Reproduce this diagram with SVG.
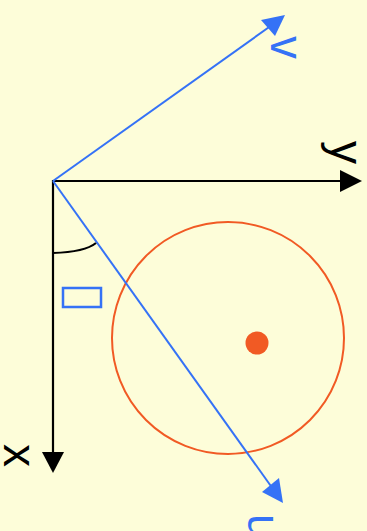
<svg xmlns="http://www.w3.org/2000/svg" width="367" height="531" viewBox="0 0 367 531">
<style>
.ax{stroke:#000;stroke-width:2.2;fill:none}
.bl{stroke:#3572f6;stroke-width:2;fill:none}
.lbl{font-family:"Liberation Sans",Arial,sans-serif;font-size:46px}
.blt{fill:#3572f6}
</style>
<rect width="367" height="531" fill="#fdfdd9"/>
<g id="circle">
<circle cx="228" cy="338" r="116" fill="none" stroke="#f15a24" stroke-width="2"/>
<circle cx="257" cy="343" r="11.5" fill="#f15a24"/>
</g>
<g id="connectors">
<line class="ax" x1="53" y1="180" x2="53" y2="455"/>
<polygon points="53,473 42,452 64,452" fill="#000"/>
<line class="ax" x1="52" y1="181" x2="342" y2="181"/>
<polygon points="362,181 340,170 340,192" fill="#000"/>
<line class="bl" x1="53" y1="181" x2="272" y2="25"/>
<polygon points="285,15 261,20 275,36" fill="#3572f6"/>
<line class="bl" x1="53" y1="181" x2="273" y2="489"/>
<polygon points="283,503 262,492 279,478" fill="#3572f6"/>
<path d="M53,253 Q85,252 96,243" fill="none" stroke="#000" stroke-width="2.2"/>
</g>
<g id="angle">
<rect x="63" y="288" width="38" height="19" fill="none" stroke="#3572f6" stroke-width="2.5"/>
</g>
<g id="labels">
<text class="lbl blt" x="271" y="36" transform="rotate(90 271 36)">v</text>
<text class="lbl" x="331" y="141" transform="rotate(90 331 141)">y</text>
<text class="lbl" x="4" y="444" transform="rotate(90 4 444)">x</text>
<text class="lbl blt" x="248" y="514" transform="rotate(90 248 514)">u</text>
</g>
</svg>
